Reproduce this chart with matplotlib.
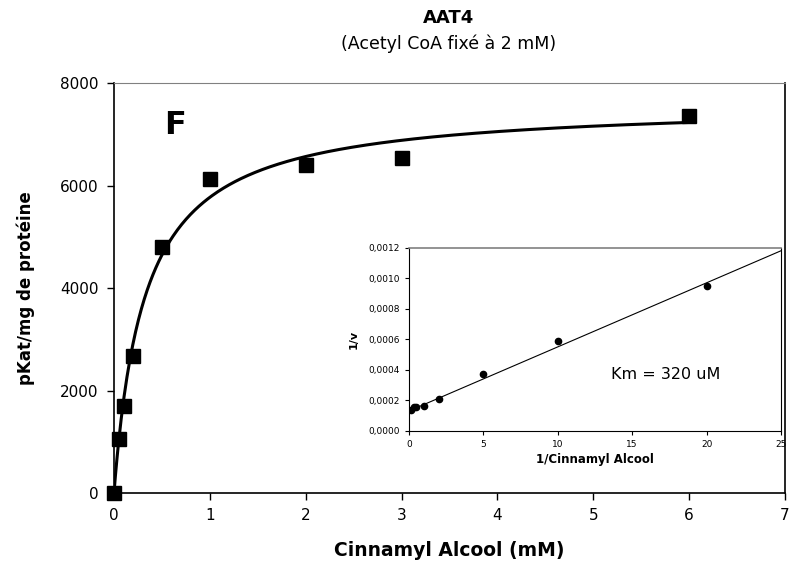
import numpy as np
import matplotlib.pyplot as plt
from matplotlib.ticker import FuncFormatter

plt.rcParams['font.family'] = ['DejaVu Sans']

# Cinnamyl alcool concentration (mM) and activity (pKat/mg)
conc = [0, 0.05, 0.1, 0.2, 0.5, 1, 2, 3, 6]
activity = [0, 1050, 1700, 2680, 4800, 6130, 6400, 6540, 7360]

# Lineweaver-Burk points (inset)
inv_conc = [0.1667, 0.333, 0.5, 1, 2, 5, 10, 20]
inv_v = [0.000136, 0.000155, 0.000157, 0.000165, 0.00021, 0.000375, 0.00059, 0.00095]

# Michaelis-Menten fit
Vmax = 7616
Km = 0.32  # mM

fig = plt.figure(figsize=(7.9, 5.65), dpi=100)
ax = fig.add_axes([0.1443, 0.1274, 0.8494, 0.7257])

s = np.linspace(0, 6, 400)
ax.plot(s, Vmax * s / (Km + s), color='black', lw=2.2)
ax.plot(conc, activity, ls='none', marker='s', ms=9.5, color='black', clip_on=False, zorder=5)

ax.set_xlim(0, 7)
ax.set_ylim(0, 8000)
ax.set_xticks(range(0, 8))
ax.set_yticks(range(0, 8001, 2000))
ax.tick_params(direction='out', length=5, labelsize=11, width=1, pad=6)
ax.spines['top'].set_color('#808080')
for sp in ['left', 'bottom', 'right']:
    ax.spines[sp].set_linewidth(1.2)
ax.set_xlabel('Cinnamyl Alcool (mM)', fontsize=13.5, fontweight='bold', labelpad=13)
ax.set_ylabel('pKat/mg de protéine', fontsize=12, fontweight='bold', labelpad=18)
ax.text(0.64, 7180, 'F', fontsize=23, fontweight='bold', ha='center', va='center')

fig.text(0.568, 0.968, 'AAT4', fontsize=13, fontweight='bold', ha='center', va='center')
fig.text(0.568, 0.923, '(Acetyl CoA fixé à 2 mM)', fontsize=12.5, ha='center', va='center')

# inset
ins = fig.add_axes([0.5177, 0.2372, 0.4709, 0.3239])
xl = np.linspace(0, 25, 50)
ins.plot(xl, 1 / Vmax + Km / Vmax * xl, color='black', lw=0.8)
ins.plot(inv_conc, inv_v, ls='none', marker='o', ms=4.5, color='black')
ins.set_xlim(0, 25)
ins.set_ylim(0, 0.0012)
ins.set_xticks(range(0, 26, 5))
ins.set_yticks(np.arange(0, 0.00121, 0.0002))
ins.yaxis.set_major_formatter(FuncFormatter(lambda v, p: f'{v:.4f}'.replace('.', ',')))
ins.tick_params(direction='out', length=3, labelsize=6.5, width=0.8)
ins.spines['top'].set_color('#808080')
ins.spines['top'].set_linewidth(1.2)
ins.set_xlabel('1/Cinnamyl Alcool', fontsize=8.5, fontweight='bold', labelpad=3)
ins.set_ylabel('1/v', fontsize=8, fontweight='bold', labelpad=7)
ins.text(13.6, 0.00037, 'Km = 320 uM', fontsize=11.5, ha='left', va='center')

fig.savefig('out.png', dpi=100)
